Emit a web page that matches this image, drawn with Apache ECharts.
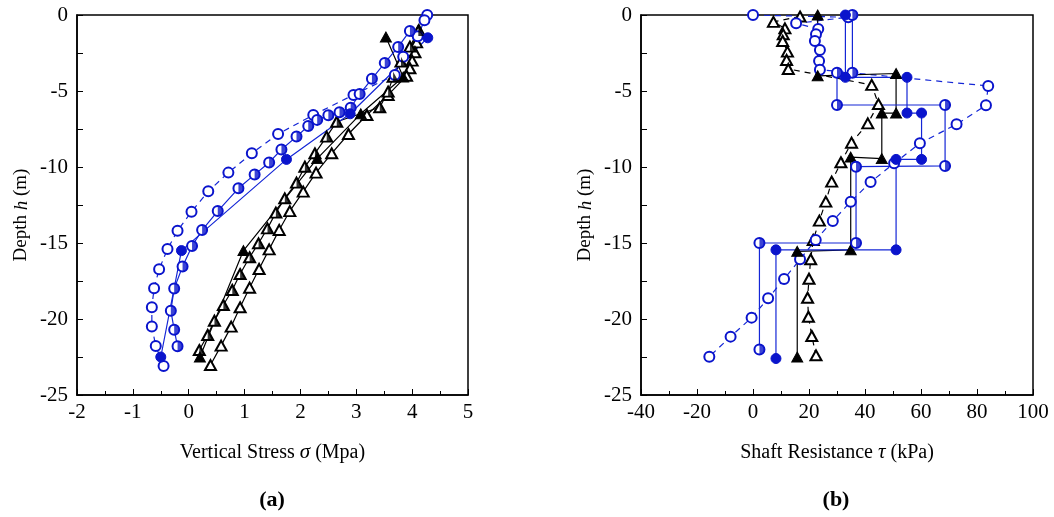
<!DOCTYPE html>
<html>
<head>
<meta charset="utf-8">
<script src="https://cdn.jsdelivr.net/npm/echarts@6/dist/echarts.min.js"></script>
<style>html,body{margin:0;padding:0;background:#fff}#c{width:1054px;height:517px}</style>
</head>
<body>
<div id="c"></div>
<script>
// ---------- Data (x value, depth h) ----------
// (a) Vertical stress sigma (MPa)
const aOpenCircle = [[4.27,0],[4.22,-0.35],[4.1,-1.4],[3.84,-2.74],[3.69,-3.95],[2.95,-5.26],[2.23,-6.58],[1.6,-7.83],[1.13,-9.1],[0.71,-10.37],[0.35,-11.6],[0.05,-12.94],[-0.2,-14.19],[-0.38,-15.4],[-0.53,-16.73],[-0.62,-17.98],[-0.66,-19.23],[-0.66,-20.5],[-0.59,-21.78],[-0.45,-23.09]];
const aHalfCircle = [[3.96,-1.05],[3.75,-2.1],[3.51,-3.15],[3.28,-4.2],[3.06,-5.2],[2.9,-6.1],[2.7,-6.4],[2.5,-6.6],[2.3,-6.9],[2.14,-7.3],[1.93,-8.0],[1.66,-8.85],[1.44,-9.7],[1.18,-10.5],[0.89,-11.4],[0.52,-12.9],[0.24,-14.15],[0.06,-15.2],[-0.11,-16.55],[-0.26,-18.0],[-0.32,-19.45],[-0.26,-20.7],[-0.2,-21.8]];
const aFullCircle = [[4.28,-1.5],[2.89,-6.5],[1.75,-9.5],[-0.13,-15.5],[-0.5,-22.5]];
const aHalfTri = [[4.11,-1.05],[3.96,-2.08],[3.8,-3.07],[3.66,-4.06],[3.57,-5.04],[3.42,-6.07],[2.65,-7.02],[2.47,-8.0],[2.26,-9.1],[2.08,-9.98],[1.93,-11.03],[1.72,-12.06],[1.56,-13.0],[1.41,-14.04],[1.25,-15.02],[1.09,-15.94],[0.92,-17.04],[0.78,-18.09],[0.62,-19.08],[0.46,-20.11],[0.34,-21.05],[0.19,-22.04]];
const aFullTri = [[3.53,-1.45],[3.84,-4.08],[3.08,-6.5],[2.3,-9.45],[0.98,-15.5],[0.2,-22.5]];
const aOpenTri = [[4.12,-1.0],[4.08,-1.8],[4.05,-2.45],[4.0,-3.0],[3.96,-3.5],[3.9,-4.0],[3.57,-5.26],[3.19,-6.58],[2.86,-7.83],[2.56,-9.1],[2.28,-10.37],[2.05,-11.62],[1.81,-12.9],[1.62,-14.14],[1.44,-15.42],[1.26,-16.71],[1.09,-17.94],[0.92,-19.23],[0.76,-20.5],[0.58,-21.75],[0.39,-23.03]];

// (b) Shaft resistance tau (kPa)
const bOpenCircle = [[0,0],[34,-0.15],[15.4,-0.55],[23.3,-0.92],[22.5,-1.27],[22.1,-1.71],[23.9,-2.3],[23.6,-3.03],[23.9,-3.6],[84,-4.67],[83.2,-5.94],[72.7,-7.19],[59.6,-8.44],[50.4,-9.76],[42,-10.99],[34.9,-12.28],[28.5,-13.55],[22.4,-14.8],[16.8,-16.07],[11.1,-17.37],[5.4,-18.64],[-0.5,-19.91],[-8,-21.16],[-15.6,-22.48]];
const bOpenTri = [[16.8,-0.1],[7.3,-0.45],[11.4,-0.88],[10.8,-1.27],[10.6,-1.71],[12.3,-2.41],[12,-2.96],[12.6,-3.55],[42.4,-4.6],[44.8,-5.86],[41,-7.13],[35.2,-8.4],[31.4,-9.69],[28.1,-10.96],[26,-12.28],[23.7,-13.53],[21.5,-14.8],[20.6,-16.07],[20,-17.35],[19.5,-18.6],[19.8,-19.85],[21,-21.12],[22.5,-22.39]];
const bFullTri = [[23.1,0],[23.1,-4.0],[51.1,-3.85],[51.1,-6.45],[46,-6.45],[46,-9.45],[34.9,-9.35],[34.9,-15.45],[15.8,-15.55],[15.8,-22.5]];
const bFullCircle = [[33,0],[33,-4.1],[55,-4.1],[55,-6.45],[60.2,-6.45],[60.2,-9.5],[51.1,-9.5],[51.1,-15.45],[8.2,-15.45],[8.2,-22.6]];
const bHalfCircle = [[35.5,0],[35.5,-3.8],[30,-3.8],[30,-5.92],[68.6,-5.92],[68.6,-9.93],[36.8,-9.98],[36.8,-15.0],[2.3,-15.0],[2.3,-22.0]];

// Axis ticks
const aXTicks = {min:-2, max:5, interval:1};
const bXTicks = {min:-40, max:100, interval:20};
const yTicks = {min:-25, max:0, interval:5};

// ---------- Styles ----------
const BLUE = '#0a14cc';
const BLUE_LINE = '#1426d6';
const BLACK = '#000';
const FONT = 'Liberation Serif';
const CS = 10;            // circle size
const TS = [11, 10];      // triangle size
const HALF_CIRCLE = 'path://M0,0 A10,10 0 0,1 0,20 Z';
const HALF_TRI = 'path://M0,0 L1,1 L0,1 Z';

function lineSeries(idx, data, color, lineColor, symbol, size, dashed, fillColor) {
  return {
    type: 'line', xAxisIndex: idx, yAxisIndex: idx, data: data,
    symbol: symbol, symbolSize: size, showSymbol: true, animation: false,
    lineStyle: {color: lineColor, width: 1.2, type: dashed ? [6, 5] : 'solid'},
    itemStyle: {color: fillColor || color, borderColor: color, borderWidth: 1},
    z: 3
  };
}
function halfSeries(idx, data, color, kind) {
  const isC = kind === 'circle';
  const w = isC ? CS : TS[0], h = isC ? CS : TS[1];
  return {
    type: 'scatter', xAxisIndex: idx, yAxisIndex: idx, data: data,
    symbol: isC ? HALF_CIRCLE : HALF_TRI, symbolSize: [w / 2, h],
    symbolOffset: [w / 4, 0], animation: false,
    itemStyle: {color: color, borderWidth: 0}, z: 4
  };
}

function xAxisCfg(idx, t, nameRich) {
  return {
    type: 'value', gridIndex: idx, min: t.min, max: t.max, interval: t.interval,
    name: nameRich, nameLocation: 'middle', nameGap: 47,
    nameTextStyle: {color: BLACK, fontFamily: FONT, fontSize: 20,
      rich: {n: {fontFamily: FONT, fontSize: 20, color: BLACK},
             i: {fontFamily: FONT, fontSize: 21, fontStyle: 'italic', color: BLACK}}},
    axisLine: {show: true, onZero: false, lineStyle: {color: BLACK, width: 1.5}},
    axisTick: {show: true, inside: true, length: 6, lineStyle: {color: BLACK, width: 1}},
    minorTick: {show: true, splitNumber: 2, length: 4, lineStyle: {color: BLACK, width: 1}},
    axisLabel: {color: BLACK, fontFamily: FONT, fontSize: 21, margin: 7},
    splitLine: {show: false}
  };
}
function yAxisCfg(idx) {
  return {
    type: 'value', gridIndex: idx, min: yTicks.min, max: yTicks.max, interval: yTicks.interval,
    name: '{n|Depth }{i|h}{n| (m)}', nameLocation: 'middle', nameGap: 46, nameRotate: 90,
    nameTextStyle: {color: BLACK, fontFamily: FONT, fontSize: 19, padding: [0, 20, 0, 0],
      rich: {n: {fontFamily: FONT, fontSize: 19, color: BLACK},
             i: {fontFamily: FONT, fontSize: 19, fontStyle: 'italic', color: BLACK}}},
    axisLine: {show: true, onZero: false, lineStyle: {color: BLACK, width: 1.5}},
    axisTick: {show: true, inside: true, length: 6, lineStyle: {color: BLACK, width: 1}},
    minorTick: {show: true, splitNumber: 2, length: 6, lineStyle: {color: BLACK, width: 1}},
    axisLabel: {color: BLACK, fontFamily: FONT, fontSize: 21, margin: 9},
    splitLine: {show: false}
  };
}

const chart = echarts.init(document.getElementById('c'), null, {renderer: 'canvas'});
chart.setOption({
  backgroundColor: '#fff',
  animation: false,
  title: [
    {text: '(a)', left: 267, top: 484, textAlign: 'center',
     textStyle: {fontFamily: FONT, fontWeight: 'bold', fontSize: 22, color: BLACK}},
    {text: '(b)', left: 831, top: 484, textAlign: 'center',
     textStyle: {fontFamily: FONT, fontWeight: 'bold', fontSize: 22, color: BLACK}}
  ],
  grid: [
    {left: 77, top: 15, width: 391, height: 380, show: true, borderColor: BLACK, borderWidth: 1.5, backgroundColor: 'transparent'},
    {left: 641, top: 15, width: 392, height: 380, show: true, borderColor: BLACK, borderWidth: 1.5, backgroundColor: 'transparent'}
  ],
  xAxis: [
    xAxisCfg(0, aXTicks, '{n|Vertical Stress }{i|σ}{n| (Mpa)}'),
    xAxisCfg(1, bXTicks, '{n|Shaft Resistance }{i|τ}{n| (kPa)}')
  ],
  yAxis: [yAxisCfg(0), yAxisCfg(1)],
  series: [
    // (a)
    lineSeries(0, aOpenTri, BLACK, BLACK, 'emptyTriangle', TS, false),
    lineSeries(0, aHalfTri, BLACK, BLACK, 'emptyTriangle', TS, false),
    halfSeries(0, aHalfTri, BLACK, 'tri'),
    lineSeries(0, aFullTri, BLACK, BLACK, 'triangle', TS, false, BLACK),
    lineSeries(0, aOpenCircle, BLUE, BLUE_LINE, 'emptyCircle', CS, true),
    lineSeries(0, aHalfCircle, BLUE, BLUE_LINE, 'emptyCircle', CS, false),
    halfSeries(0, aHalfCircle, BLUE, 'circle'),
    lineSeries(0, aFullCircle, BLUE, BLUE_LINE, 'circle', CS, false, BLUE),
    // (b)
    lineSeries(1, bOpenTri, BLACK, BLACK, 'emptyTriangle', TS, true),
    lineSeries(1, bOpenCircle, BLUE, BLUE_LINE, 'emptyCircle', CS, true),
    lineSeries(1, bFullTri, BLACK, BLACK, 'triangle', TS, false, BLACK),
    lineSeries(1, bHalfCircle, BLUE, BLUE_LINE, 'emptyCircle', CS, false),
    halfSeries(1, bHalfCircle, BLUE, 'circle'),
    lineSeries(1, bFullCircle, BLUE, BLUE_LINE, 'circle', CS, false, BLUE)
  ]
});
</script>
</body>
</html>
